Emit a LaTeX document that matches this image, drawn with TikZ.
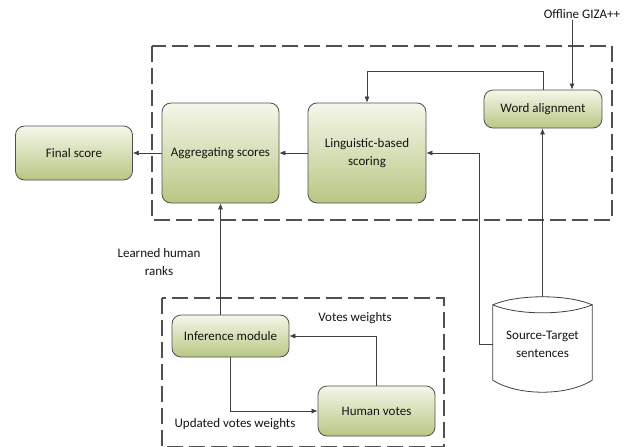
\documentclass[tikz,border=0pt]{standalone}
\usepackage{fontspec}
\setmainfont{Carlito}
\usetikzlibrary{arrows.meta,calc}
\definecolor{boxtop}{RGB}{245,247,234}
\definecolor{boxbot}{RGB}{184,199,132}
\definecolor{edge}{RGB}{80,80,80}
\definecolor{txt}{RGB}{20,20,20}
\tikzset{
  procbox/.style={rectangle, rounded corners=9pt, draw=edge, line width=0.8pt,
    top color=boxtop, bottom color=boxbot, align=center, text=txt,
    inner sep=2pt},
  lbl/.style={align=center, text=txt, inner sep=1pt},
  arr/.style={draw=edge!80!black, line width=0.6pt, -{Latex[length=6pt,width=5pt]}},
  group/.style={draw=edge, line width=1.5pt, dash pattern=on 16pt off 6pt},
}
\begin{document}
\begin{tikzpicture}[x=1pt,y=-1pt,font=\fontsize{13}{18.5}\selectfont]
\useasboundingbox (0,0) rectangle (632,447);
% groups
\draw[group] (152,46) rectangle (612,220);
\draw[group] (162,298) rectangle (444,447);
% nodes
\node[procbox, minimum width=117pt, minimum height=54pt] (final) at (74,153) {Final score};
\node[procbox, minimum width=117pt, minimum height=100pt] (agg) at (220.5,153) {Aggregating scores};
\node[procbox, minimum width=118pt, minimum height=100pt] (ling) at (367,153) {Linguistic-based\\scoring};
\node[procbox, minimum width=118pt, minimum height=38pt] (wa) at (543,109) {Word alignment};
\node[procbox, minimum width=117pt, minimum height=42pt] (inf) at (230.5,336) {Inference module};
\node[procbox, minimum width=117pt, minimum height=50pt] (hv) at (376.5,411) {Human votes};
\node[lbl, minimum width=99pt, minimum height=95pt] (src) at (542.5,344.5) {Source-Target\\sentences};
% cylinder outline
\draw[edge!80!black, line width=0.8pt]
  ($(src.north west)+(0,8)$) .. controls ($(src.north west)+(25,-2.7)$) and ($(src.north east)+(-25,-2.7)$) .. ($(src.north east)+(0,8)$)
  .. controls ($(src.north east)+(-25,18.7)$) and ($(src.north west)+(25,18.7)$) .. ($(src.north west)+(0,8)$)
  -- ($(src.south west)+(0,-12)$)
  .. controls ($(src.south west)+(25,4)$) and ($(src.south east)+(-25,4)$) .. ($(src.south east)+(0,-12)$)
  -- ($(src.north east)+(0,8)$);
% labels
\node[lbl] (giza) at (582,14) {Offline GIZA++};
\node[lbl] (learned) at (159,262) {Learned human\\ranks};
\node[lbl] (vw) at (355,318) {Votes weights};
\node[lbl] (uvw) at (235,424) {Updated votes weights};
% connectors
\draw[arr] (agg.west) -- (final.east);
\draw[arr] (ling.west) -- (agg.east);
\draw[arr] (wa.north) -- ++(0,-18) -| (ling.north);
\draw[arr] ([xshift=-10pt]giza.south) -- ([xshift=-10pt]giza.south |- wa.north);
\draw[arr] (src.west) -- ++(-14,0) |- (ling.east);
\draw[arr] (src.north) -- (src.north |- wa.south);
\draw[arr] (agg.south |- inf.north) -- (agg.south);
\draw[arr] (hv.north) |- (inf.east);
\draw[arr] (inf.south) |- (hv.west);
\end{tikzpicture}
\end{document}
